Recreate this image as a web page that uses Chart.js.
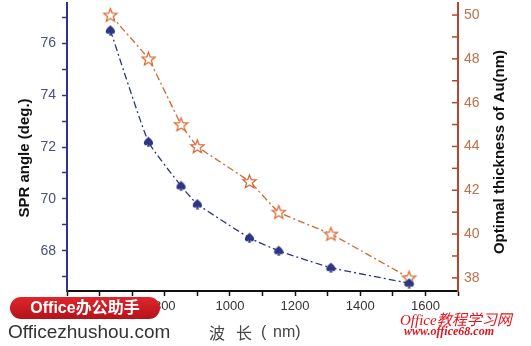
<!DOCTYPE html>
<html>
<head>
<meta charset="utf-8">
<script src="https://cdn.jsdelivr.net/npm/chart.js@4/dist/chart.umd.min.js"></script>
<style>
  html, body { margin: 0; padding: 0; background: #fff; }
  #wrap { position: relative; width: 531px; height: 346px; overflow: hidden; }
  #chart { position: absolute; left: 0; top: 0; }
  .badge {
    position: absolute; left: 10px; top: 297px; width: 150px; height: 22px;
    background: linear-gradient(#e0262c, #b5121a); border-radius: 11px;
    color: #fff; font: bold 16px "Liberation Sans", "Noto Sans CJK SC", sans-serif;
    line-height: 22px; text-align: center;
  }
  .site {
    position: absolute; left: 8px; top: 321px;
    color: #333; font: 19px "Liberation Sans", sans-serif;
  }
  .brand {
    position: absolute; left: 400px; top: 308px; color: #e0141e;
    font: italic 15px "Liberation Serif", "Noto Sans CJK SC", serif;
  }
  .url {
    position: absolute; left: 404px; top: 324px; color: #e0141e;
    font: italic bold 12px "Liberation Serif", serif;
  }
</style>
</head>
<body>
<div id="wrap">
  <canvas id="chart" width="531" height="346"></canvas>
  <div class="badge">Office办公助手</div>
  <div class="site">Officezhushou.com</div>
  <div class="brand">Office教程学习网</div>
  <div class="url">www.office68.com</div>
</div>
<script>
// Data
const wavelengths = [633, 750, 850, 900, 1060, 1150, 1310, 1550];
const sprAngle = [76.5, 72.2, 70.5, 69.8, 68.5, 68.0, 67.35, 66.75];
const auThickness = [50, 48, 45, 44, 42.4, 41, 40, 38];

// Axis ranges and ticks
const xRange = [500, 1700];
const xStep = 100;
const angleRange = [66.45, 77.55];
const thickRange = [37.4, 50.55];

const navy = '#2d3585';
const rust = '#b5462e';
const orange = '#d4672e';

// Outlined five-point star marker
function makeStar() {
    const c = document.createElement('canvas');
    c.width = 17; c.height = 17;
    const g = c.getContext('2d');
    g.beginPath();
    for (let i = 0; i < 10; i++) {
        const r = i % 2 === 0 ? 7 : 3;
        const a = -Math.PI / 2 + i * Math.PI / 5;
        const px = 8.5 + r * Math.cos(a), py = 9 + r * Math.sin(a);
        i === 0 ? g.moveTo(px, py) : g.lineTo(px, py);
    }
    g.closePath();
    g.fillStyle = '#fff';
    g.fill();
    g.strokeStyle = orange;
    g.lineWidth = 1.2;
    g.stroke();
    return c;
}

// Filled spade-like marker
function makeSpade() {
    const c = document.createElement('canvas');
    c.width = 11; c.height = 11;
    const g = c.getContext('2d');
    const cx = 5.5;
    g.beginPath();
    g.moveTo(cx, 0.5);
    g.bezierCurveTo(cx + 2, 2.5, cx + 5, 4.5, cx + 4.6, 7.2);
    g.bezierCurveTo(cx + 4.2, 9.4, cx + 1.6, 9.4, cx + 0.6, 8);
    g.lineTo(cx + 1.6, 10.6);
    g.lineTo(cx - 1.6, 10.6);
    g.lineTo(cx - 0.6, 8);
    g.bezierCurveTo(cx - 1.6, 9.4, cx - 4.2, 9.4, cx - 4.6, 7.2);
    g.bezierCurveTo(cx - 5, 4.5, cx - 2, 2.5, cx, 0.5);
    g.closePath();
    g.fillStyle = navy;
    g.fill();
    return c;
}

// Titles and inward ticks on the right axis
const decorPlugin = {
    id: 'decor',
    afterDraw(chart) {
        const ctx = chart.ctx;
        const y2 = chart.scales.y2;
        const area = chart.chartArea;
        ctx.save();
        ctx.strokeStyle = rust;
        ctx.lineWidth = 1.5;
        y2.ticks.forEach(t => {
            const py = y2.getPixelForValue(t.value);
            ctx.beginPath();
            ctx.moveTo(area.right - 6, py);
            ctx.lineTo(area.right, py);
            ctx.stroke();
        });

        ctx.fillStyle = '#111';
        ctx.font = 'bold 15px "Liberation Sans", Arial, sans-serif';
        ctx.textAlign = 'center';
        ctx.textBaseline = 'middle';
        ctx.save();
        ctx.translate(25, 158);
        ctx.rotate(-Math.PI / 2);
        ctx.fillText('SPR angle (deg.)', 0, 0);
        ctx.restore();
        ctx.save();
        ctx.translate(500, 152);
        ctx.rotate(-Math.PI / 2);
        ctx.fillText('Optimal thickness of Au(nm)', 0, 0);
        ctx.restore();

        // x title, spaced like the reference
        ctx.fillStyle = '#444';
        ctx.textAlign = 'left';
        ctx.font = '16px "Noto Sans CJK SC", sans-serif';
        ctx.fillText('波', 209, 333);
        ctx.fillText('长', 236, 333);
        ctx.font = '16px "Liberation Sans", sans-serif';
        ctx.fillText('(', 261, 333);
        ctx.fillText('nm)', 273, 333);
        ctx.restore();
    }
};

function evenLabel(v) {
    const r = Math.round(v);
    return Math.abs(v - r) < 1e-6 && r % 2 === 0 ? String(r) : '';
}

// Pin the plot area to the reference position
function noPad(s) {
    s.paddingTop = 0;
    s.paddingBottom = 0;
    s.paddingLeft = 0;
    s.paddingRight = 0;
}

new Chart(document.getElementById('chart'), {
    type: 'line',
    data: {
        datasets: [
            {
                label: 'SPR angle',
                data: wavelengths.map((x, i) => ({ x: x, y: sprAngle[i] })),
                yAxisID: 'y',
                borderColor: navy,
                borderWidth: 1.3,
                borderDash: [7, 3, 2, 3],
                pointStyle: makeSpade(),
                pointRadius: 5,
                tension: 0.15
            },
            {
                label: 'Optimal thickness',
                data: wavelengths.map((x, i) => ({ x: x, y: auThickness[i] })),
                yAxisID: 'y2',
                borderColor: orange,
                borderWidth: 1.3,
                borderDash: [7, 3, 2, 3],
                pointStyle: makeStar(),
                pointRadius: 8,
                tension: 0.1
            }
        ]
    },
    options: {
        responsive: false,
        animation: false,
        layout: { autoPadding: false, padding: { top: 3, left: 0, right: 0, bottom: 0 } },
        plugins: { legend: { display: false }, tooltip: { enabled: false } },
        scales: {
            x: {
                type: 'linear',
                min: xRange[0],
                max: xRange[1],
                afterFit(s) { s.height = 55; noPad(s); },
                border: { color: '#111', width: 2 },
                grid: { drawOnChartArea: false, tickLength: 5, tickColor: '#111', tickWidth: 1.5 },
                ticks: {
                    stepSize: xStep,
                    autoSkip: false,
                    includeBounds: false,
                    maxRotation: 0,
                    padding: 3,
                    color: '#333',
                    font: { family: '"Liberation Sans", Arial, sans-serif', size: 13 },
                    callback: v => (v % 200 === 0 ? String(v) : '')
                }
            },
            y: {
                position: 'left',
                min: angleRange[0],
                max: angleRange[1],
                afterFit(s) { s.width = 67; noPad(s); },
                border: { color: navy, width: 2 },
                grid: { drawOnChartArea: false, tickLength: 5, tickColor: navy, tickWidth: 1.5 },
                ticks: {
                    stepSize: 1,
                    autoSkip: false,
                    includeBounds: false,
                    padding: 6,
                    color: '#4a5080',
                    font: { family: '"Liberation Sans", Arial, sans-serif', size: 14 },
                    callback: evenLabel
                }
            },
            y2: {
                position: 'right',
                min: thickRange[0],
                max: thickRange[1],
                afterFit(s) { s.width = 73; noPad(s); },
                border: { color: rust, width: 2 },
                grid: { drawOnChartArea: false, drawTicks: false },
                ticks: {
                    stepSize: 1,
                    autoSkip: false,
                    includeBounds: false,
                    padding: 6,
                    color: '#c0704a',
                    font: { family: '"Liberation Sans", Arial, sans-serif', size: 14 },
                    callback: evenLabel
                }
            }
        }
    },
    plugins: [decorPlugin]
});
</script>
</body>
</html>
